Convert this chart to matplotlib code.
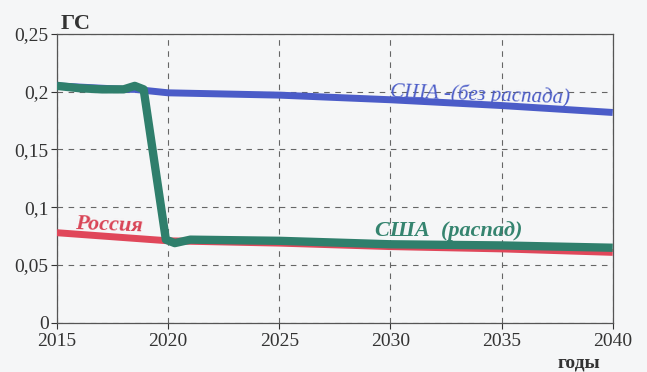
import matplotlib.pyplot as plt
from matplotlib.ticker import FixedLocator

# data
years_usa = [2015, 2016, 2017, 2018, 2018.5, 2019, 2020, 2025, 2030, 2035, 2040]
usa_no_decay = [0.205, 0.204, 0.203, 0.202, 0.202, 0.201, 0.199, 0.197, 0.193, 0.188, 0.182]

years_decay = [2015, 2016, 2017, 2018, 2018.5, 2018.9, 2019.9, 2020.3, 2021, 2025, 2030, 2035, 2040]
usa_decay = [0.205, 0.203, 0.202, 0.202, 0.205, 0.202, 0.072, 0.069, 0.072, 0.071, 0.068, 0.067, 0.065]

years_ru = [2015, 2020, 2025, 2030, 2035, 2040]
russia = [0.078, 0.071, 0.069, 0.066, 0.064, 0.061]

x_ticks = [2015, 2020, 2025, 2030, 2035, 2040]
y_ticks = [0, 0.05, 0.1, 0.15, 0.2, 0.25]
y_labels = ['0', '0,05', '0,1', '0,15', '0,2', '0,25']

plt.rcParams['font.family'] = ['Liberation Serif', 'DejaVu Serif']

fig = plt.figure(figsize=(6.47, 3.72), dpi=100, facecolor='#f5f6f7')
ax = fig.add_axes([0.088, 0.132, 0.859, 0.777])
ax.set_facecolor('#f5f6f7')

ax.plot(years_usa, usa_no_decay, color='#4b5cc8', lw=5, solid_capstyle='butt', zorder=3)
ax.plot(years_ru, russia, color='#e0475a', lw=5, solid_capstyle='butt', zorder=3)
ax.plot(years_decay, usa_decay, color='#2f7f6c', lw=6, solid_capstyle='butt',
        solid_joinstyle='round', zorder=4)

ax.set_xlim(2015, 2040)
ax.set_ylim(0, 0.25)
ax.xaxis.set_major_locator(FixedLocator(x_ticks))
ax.set_yticks(y_ticks)
ax.set_yticklabels(y_labels)
ax.tick_params(labelsize=14, colors='#333333', length=4, direction='out')
ax.tick_params(axis='y', pad=2)
ax.tick_params(axis='x', pad=3)
ax.grid(True, linestyle=(0, (5, 5)), color='#666666', lw=0.8)
for s in ax.spines.values():
    s.set_color('#555555')
    s.set_linewidth(0.9)

ax.text(2015.8, 0.079, 'Россия', color='#d94456', fontsize=16, style='italic',
        fontweight='bold', rotation=-2)
ax.text(2030.0, 0.190, 'США -(без распада)', color='#4b5cc8', fontsize=15, style='italic',
        rotation=-2)
ax.text(2029.3, 0.075, 'США  (распад)', color='#35846f', fontsize=16, style='italic',
        fontweight='bold')

fig.text(0.093, 0.922, 'ГС', fontsize=16, fontweight='bold', color='#333333')
fig.text(0.862, 0.012, 'годы', fontsize=14, fontweight='bold', color='#333333')

fig.savefig('out.png', dpi=100, facecolor=fig.get_facecolor())
